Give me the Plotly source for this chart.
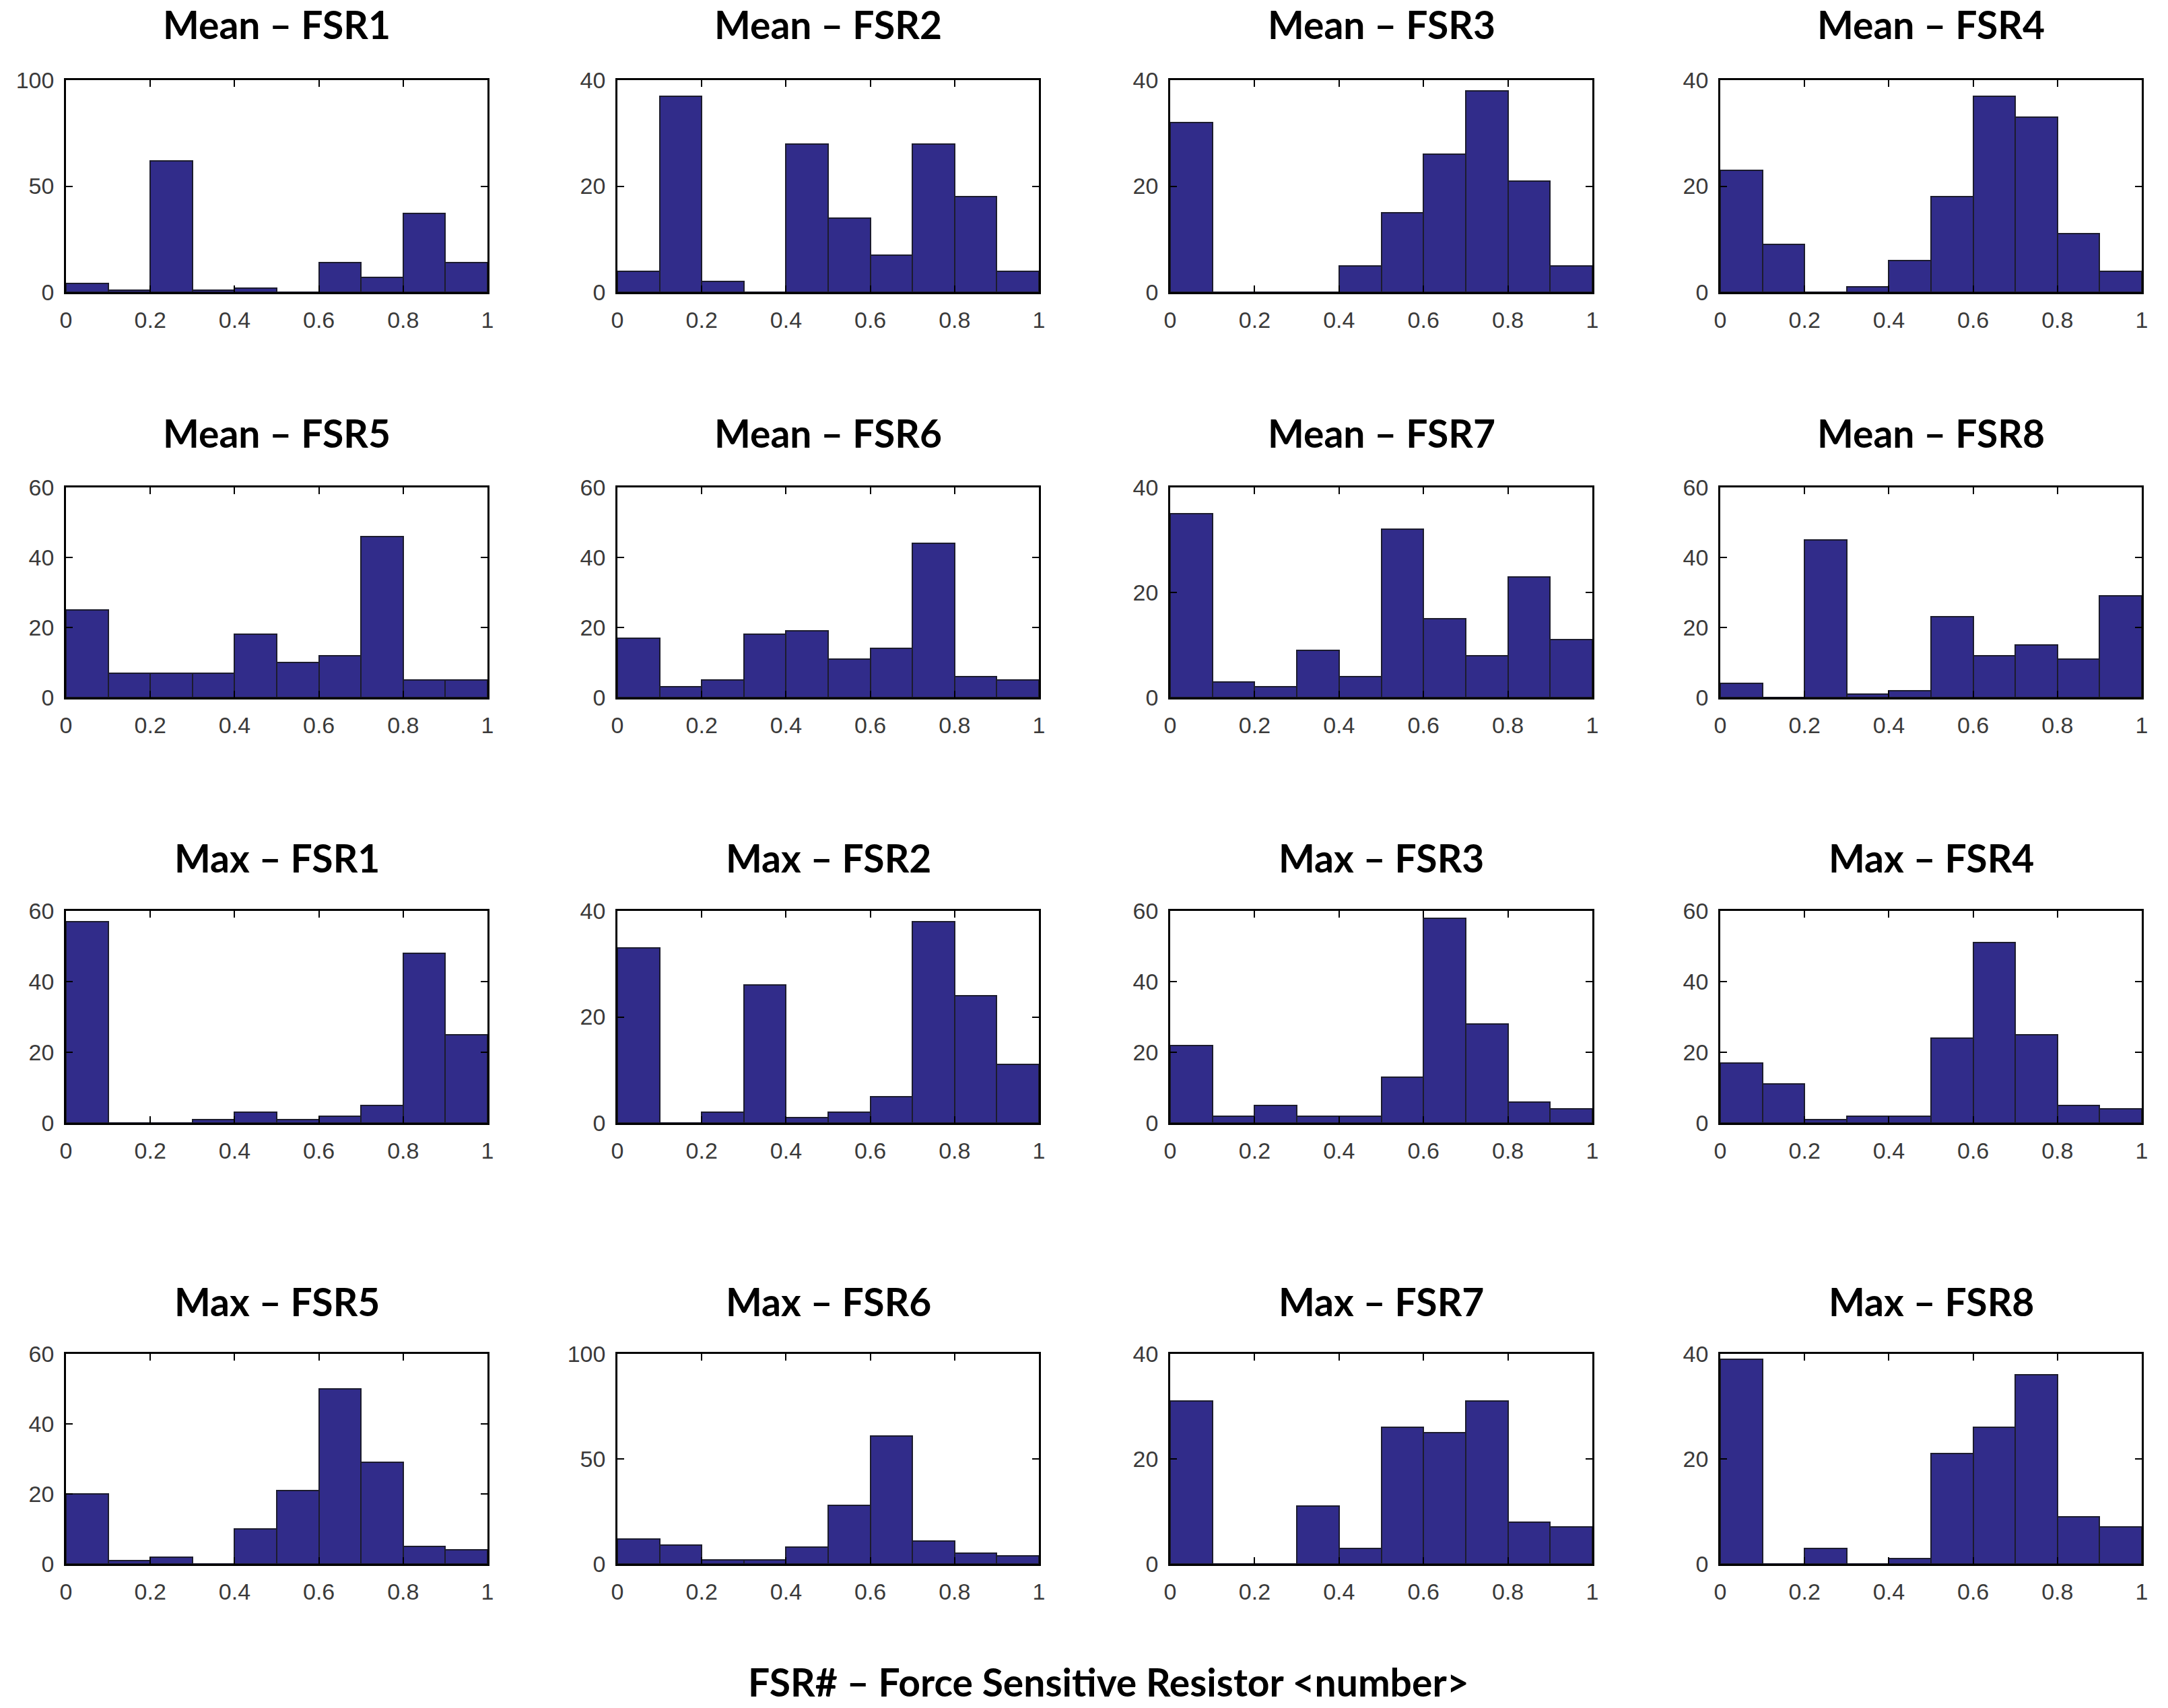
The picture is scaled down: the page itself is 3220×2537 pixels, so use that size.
import plotly.graph_objects as go

# ---- data ----
bin_centers = [0.05, 0.15, 0.25, 0.35, 0.45, 0.55, 0.65, 0.75, 0.85, 0.95]
x_ticks = [0, 0.2, 0.4, 0.6, 0.8, 1]
x_tick_labels = ["0", "0.2", "0.4", "0.6", "0.8", "1"]

titles = ["Mean \u2013 FSR1", "Mean \u2013 FSR2", "Mean \u2013 FSR3", "Mean \u2013 FSR4",
          "Mean \u2013 FSR5", "Mean \u2013 FSR6", "Mean \u2013 FSR7", "Mean \u2013 FSR8",
          "Max \u2013 FSR1", "Max \u2013 FSR2", "Max \u2013 FSR3", "Max \u2013 FSR4",
          "Max \u2013 FSR5", "Max \u2013 FSR6", "Max \u2013 FSR7", "Max \u2013 FSR8"]

mean_fsr1 = [4, 1, 62, 1, 2, 0, 14, 7, 37, 14]
mean_fsr2 = [4, 37, 2, 0, 28, 14, 7, 28, 18, 4]
mean_fsr3 = [32, 0, 0, 0, 5, 15, 26, 38, 21, 5]
mean_fsr4 = [23, 9, 0, 1, 6, 18, 37, 33, 11, 4]
mean_fsr5 = [25, 7, 7, 7, 18, 10, 12, 46, 5, 5]
mean_fsr6 = [17, 3, 5, 18, 19, 11, 14, 44, 6, 5]
mean_fsr7 = [35, 3, 2, 9, 4, 32, 15, 8, 23, 11]
mean_fsr8 = [4, 0, 45, 1, 2, 23, 12, 15, 11, 29]
max_fsr1 = [57, 0, 0, 1, 3, 1, 2, 5, 48, 25]
max_fsr2 = [33, 0, 2, 26, 1, 2, 5, 38, 24, 11]
max_fsr3 = [22, 2, 5, 2, 2, 13, 58, 28, 6, 4]
max_fsr4 = [17, 11, 1, 2, 2, 24, 51, 25, 5, 4]
max_fsr5 = [20, 1, 2, 0, 10, 21, 50, 29, 5, 4]
max_fsr6 = [12, 9, 2, 2, 8, 28, 61, 11, 5, 4]
max_fsr7 = [31, 0, 0, 11, 3, 26, 25, 31, 8, 7]
max_fsr8 = [39, 0, 3, 0, 1, 21, 26, 36, 9, 7]

series = [mean_fsr1, mean_fsr2, mean_fsr3, mean_fsr4,
          mean_fsr5, mean_fsr6, mean_fsr7, mean_fsr8,
          max_fsr1, max_fsr2, max_fsr3, max_fsr4,
          max_fsr5, max_fsr6, max_fsr7, max_fsr8]

y_max = [100, 40, 40, 40,
         60, 60, 40, 60,
         60, 40, 60, 60,
         60, 100, 40, 40]

caption = "FSR# \u2013 Force Sensitive Resistor &lt;number&gt;"

# ---- layout geometry (pixels) ----
W, H = 3220, 2537
col_px = [(98, 724), (917, 1543), (1738, 2365), (2555, 3181)]
row_px = [(119, 434), (724, 1036), (1353, 1668), (2011, 2323)]
title_y_px = [36, 643, 1274, 1933]

BAR_COLOR = "#312C8A"
EDGE_COLOR = "#1c1c2e"
TICK_FONT = dict(family="Liberation Sans Narrow, Liberation Sans, Arial, sans-serif",
                 size=34, color="#3a3a3a")
TITLE_FONT = dict(family="Lato, Open Sans, sans-serif", size=57, color="#000000",
                  weight="bold")

fig = go.Figure()
layout = dict(
    width=W, height=H, autosize=False,
    margin=dict(l=0, r=0, t=0, b=0, pad=0, autoexpand=False),
    paper_bgcolor="white", plot_bgcolor="white",
    showlegend=False, bargap=0,
    annotations=[],
)

for i, vals in enumerate(series):
    r, c = divmod(i, 4)
    k = i + 1
    xa = "x" if k == 1 else f"x{k}"
    ya = "y" if k == 1 else f"y{k}"
    fig.add_trace(go.Bar(
        x=bin_centers, y=vals, width=0.1,
        marker=dict(color=BAR_COLOR, line=dict(color=EDGE_COLOR, width=2)),
        xaxis=xa, yaxis=ya, hoverinfo="x+y",
    ))
    x0, x1 = col_px[c]
    y0, y1 = row_px[r]
    step = y_max[i] // 2 if y_max[i] == 100 else 20
    common = dict(
        showline=True, linecolor="#000000", linewidth=2.5, mirror="ticks",
        ticks="inside", ticklen=10, tickwidth=2, tickcolor="#000000",
        showgrid=False, zeroline=False, tickfont=TICK_FONT, fixedrange=True,
        automargin=False,
    )
    layout["xaxis" if k == 1 else f"xaxis{k}"] = dict(
        domain=[x0 / W, x1 / W], range=[0, 1],
        tickmode="array", tickvals=x_ticks, ticktext=x_tick_labels,
        anchor=ya, ticklabelstandoff=9, **common,
    )
    layout["yaxis" if k == 1 else f"yaxis{k}"] = dict(
        domain=[1 - y1 / H, 1 - y0 / H], range=[0, y_max[i]],
        tickmode="linear", tick0=0, dtick=step,
        anchor=xa, ticklabelstandoff=8, **common,
    )
    layout["annotations"].append(dict(
        text=titles[i], x=(x0 + x1) / 2 / W, y=1 - title_y_px[r] / H,
        xref="paper", yref="paper", xanchor="center", yanchor="middle",
        showarrow=False, font=TITLE_FONT,
    ))

layout["annotations"].append(dict(
    text=caption, x=1646 / W, y=1 - 2498 / H,
    xref="paper", yref="paper", xanchor="center", yanchor="middle",
    showarrow=False, font=dict(family="Lato, Open Sans, sans-serif", size=57,
                               color="#000000", weight="bold"),
))

fig.update_layout(**layout)
fig.write_html("out.html",
               config={"displayModeBar": False},
               post_script="document.body.style.margin='0';document.body.style.overflow='hidden';")
